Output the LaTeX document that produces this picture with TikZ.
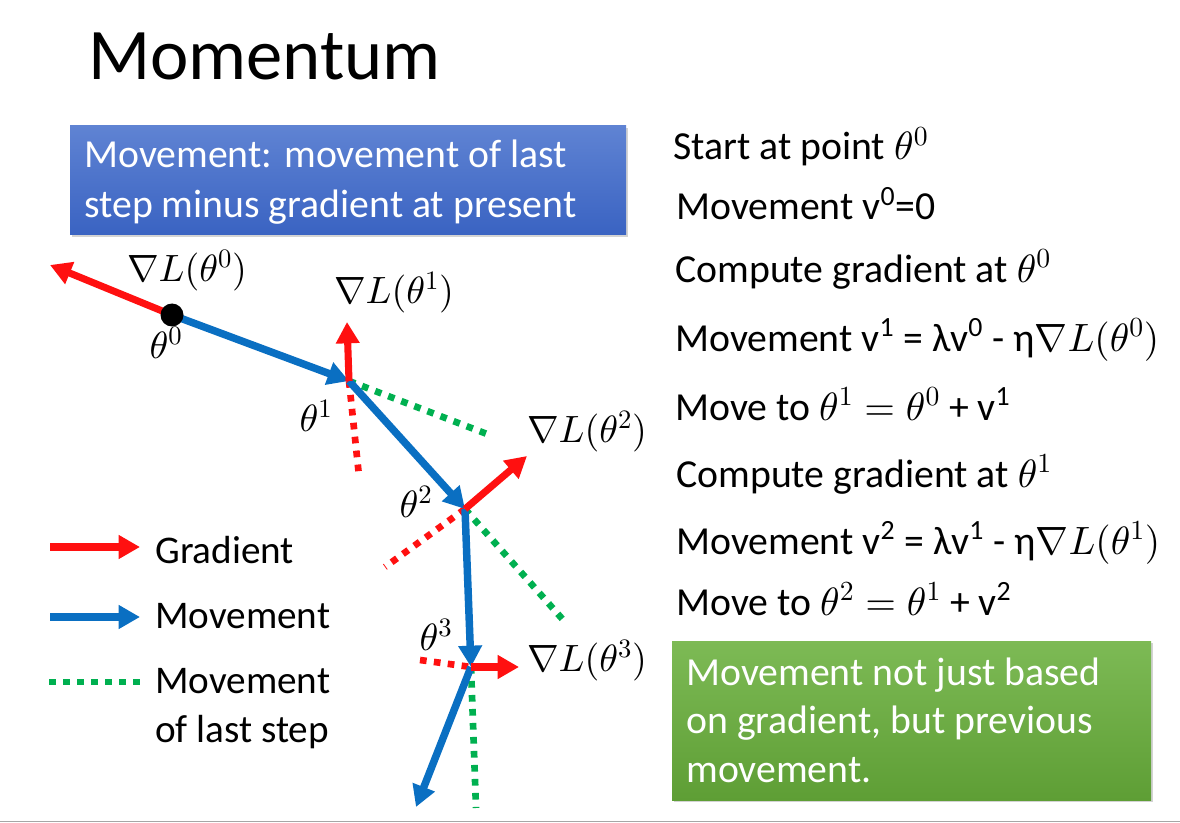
\documentclass[tikz,border=0pt]{standalone}
\DeclareFontShape{OML}{cmm}{m}{it}{<-6>cmmi5<6-8>cmmi7<8->cmmi10}{}
\DeclareFontShape{OMS}{cmsy}{m}{n}{<-6>cmsy5<6-8>cmsy7<8->cmsy10}{}
\DeclareFontShape{OT1}{cmr}{m}{n}{<-6>cmr5<6-8>cmr7<8->cmr10}{}
\DeclareFontShape{OMX}{cmex}{m}{n}{<->cmex10}{}
\usepackage{fontspec}
\setmainfont{Carlito}
\usetikzlibrary{arrows.meta,shadows}
\definecolor{gred}{HTML}{FF1010}
\definecolor{mblue}{HTML}{0A6FC2}
\definecolor{lgreen}{HTML}{00B050}
\definecolor{boxbluetop}{HTML}{5F83D3}
\definecolor{boxbluebot}{HTML}{3A63C2}
\definecolor{boxgreentop}{HTML}{7DBA55}
\definecolor{boxgreenbot}{HTML}{5E9E35}
\newcommand{\mth}[1]{{\fontsize{29.6}{35}\selectfont$#1$}}
\begin{document}
\begin{tikzpicture}[x=0.75pt,y=-0.75pt,
  grad/.style={draw=gred, line width=5.3pt, -{Triangle[length=16pt,width=17pt]}},
  move/.style={draw=mblue, line width=5.6pt, -{Triangle[length=16pt,width=17pt]}},
  gdot/.style={draw=gred, line width=5pt, dash pattern=on 5pt off 5.5pt},
  ldot/.style={draw=lgreen, line width=5pt, dash pattern=on 5pt off 5.5pt},
  txt/.style={inner sep=0pt, anchor=base west, font=\fontsize{29.8}{35}\selectfont},
  ltxt/.style={inner sep=0pt, anchor=base west, font=\fontsize{29.4}{35}\selectfont},
  wtxt/.style={txt, text=white},
  lab/.style={inner sep=0pt, font=\fontsize{28.5}{34}\selectfont},
  infobox/.style={inner sep=0pt, drop shadow={opacity=0.35, shadow xshift=1.5pt, shadow yshift=-1.5pt}}]
\useasboundingbox (0,0) rectangle (1180,823);

% title
\node[inner sep=0pt, anchor=base west, font=\fontsize{54.5}{60}\selectfont] (title) at (88,80) {Momentum};

% blue box
\node[infobox, top color=boxbluetop, bottom color=boxbluebot, minimum width=417pt, minimum height=81.75pt] (bluebox) at (348,180.5) {};
\node[wtxt] (bt1) at (84,168) {Movement: movement of last};
\node[wtxt] (bt2) at (84,218) {step minus gradient at present};

% green box
\node[infobox, top color=boxgreentop, bottom color=boxgreenbot, minimum width=359.25pt, minimum height=119.25pt] (greenbox) at (911.5,720.5) {};
\node[wtxt] (gt1) at (686,685) {Movement not just based};
\node[wtxt] (gt2) at (686,733) {on gradient, but previous};
\node[wtxt] (gt3) at (686,782) {movement.};

% right column
\node[txt] (s1) at (673,160) {Start at point \mth{\theta^0}};
\node[txt] (s2) at (676,220) {Movement v\textsuperscript{0}=0};
\node[txt] (s3) at (675,282) {Compute gradient at \mth{\theta^0}};
\node[txt] (s4) at (675,351) {Movement v\textsuperscript{1} = λv\textsuperscript{0} - η\mth{\nabla L(\theta^0)}};
\node[txt] (s5) at (675,420) {Move to \mth{\theta^1 = \theta^0} + v\textsuperscript{1}};
\node[txt] (s6) at (676,487) {Compute gradient at \mth{\theta^1}};
\node[txt] (s7) at (676,554) {Movement v\textsuperscript{2} = λv\textsuperscript{1} - η\mth{\nabla L(\theta^1)}};
\node[txt] (s8) at (676,615) {Move to \mth{\theta^2 = \theta^1} + v\textsuperscript{2}};

% points
\coordinate (t0) at (172,315);
\coordinate (t1) at (349,381);
\coordinate (t2) at (465,509);
\coordinate (t3) at (471,667);
\coordinate (g0) at (50,265);
\coordinate (g1) at (347,322);
\coordinate (g1d) at (359,476);
\coordinate (m1d) at (487,434);
\coordinate (g2) at (527,456);
\coordinate (g2d) at (385,567);
\coordinate (m2d) at (565,622);
\coordinate (g3d) at (420,660);
\coordinate (g3) at (519,667);
\coordinate (m3d) at (476,808);
\coordinate (m4) at (416,807);

% dotted lines
\draw[ldot] (t1) -- (m1d);
\draw[ldot] (t2) -- (m2d);
\draw[ldot] (t3) -- (m3d);
\draw[gdot] (t1) -- (g1d);
\draw[gdot] (t2) -- (g2d);
\draw[gdot] (g3d) -- (t3);

% movements
\draw[move] (t0) -- (t1);
\draw[move] (t1) -- (t2);
\draw[move] (t2) -- (t3);
\draw[move] (t3) -- (m4);

% gradients
\draw[grad] (t0) -- (g0);
\draw[grad] (t1) -- (g1);
\draw[grad] (t2) -- (g2);
\draw[grad] (t3) -- (g3);

\fill[black] (t0) circle[radius=11.5];

% labels
\node[lab] (lg0) at (187,271) {$\nabla L(\theta^0)$};
\node[lab] (lt0) at (166,343) {$\theta^0$};
\node[lab] (lg1) at (394,293) {$\nabla L(\theta^1)$};
\node[lab] (lt1) at (316,416) {$\theta^1$};
\node[lab] (lg2) at (587,432) {$\nabla L(\theta^2)$};
\node[lab] (lt2) at (416,502) {$\theta^2$};
\node[lab] (lt3) at (436,635) {$\theta^3$};
\node[lab] (lg3) at (587,661) {$\nabla L(\theta^3)$};

% legend
\coordinate (l1s) at (50,547); \coordinate (l1e) at (140,547);
\coordinate (l2s) at (50,617); \coordinate (l2e) at (140,617);
\coordinate (l3s) at (49,682); \coordinate (l3e) at (140,682);
\draw[grad] (l1s) -- (l1e);
\draw[move] (l2s) -- (l2e);
\draw[ldot] (l3s) -- (l3e);
\node[ltxt] (lt1x) at (155,563) {Gradient};
\node[ltxt] (lt2x) at (155,628) {Movement};
\node[ltxt] (lt3x) at (155,693) {Movement};
\node[ltxt] (lt4x) at (155,742) {of last step};

% bottom rule
\coordinate (bl) at (0,821.5); \coordinate (br) at (1180,821.5);
\draw[draw=black!35, line width=1.2pt] (bl) -- (br);
\end{tikzpicture}
\end{document}
